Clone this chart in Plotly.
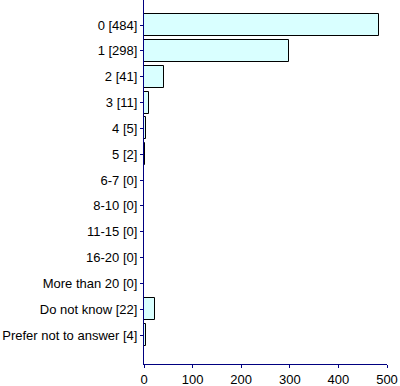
import plotly.graph_objects as go

categories = ["0", "1", "2", "3", "4", "5", "6-7", "8-10", "11-15", "16-20",
              "More than 20", "Do not know", "Prefer not to answer"]
counts = [484, 298, 41, 11, 5, 2, 0, 0, 0, 0, 0, 22, 4]
labels = [f"{c} [{v}]" for c, v in zip(categories, counts)]
x_ticks = [0, 100, 200, 300, 400, 500]

fig = go.Figure(go.Bar(
    x=counts, y=list(range(len(labels))), orientation="h",
    width=0.85,
    marker=dict(color="#D9FFFF", line=dict(color="black", width=1)),
    hoverinfo="skip",
))

fig.update_layout(
    width=400, height=386,
    margin=dict(l=144, r=13, t=0, b=22, autoexpand=False),
    paper_bgcolor="white", plot_bgcolor="white",
    font=dict(family="Liberation Sans, Arial", size=13, color="black"),
    showlegend=False,
    bargap=0,
)
fig.update_xaxes(
    range=[0, 500], tickvals=x_ticks, showgrid=False, zeroline=False,
    showline=True, linecolor="#000080", linewidth=1, automargin=False,
    ticks="outside", ticklen=3, tickcolor="#000080",
)
fig.update_yaxes(
    range=[13.12, -0.97], tickvals=list(range(len(labels))), ticktext=labels,
    showgrid=False, zeroline=False, automargin=False,
    showline=True, linecolor="#000080", linewidth=1,
    ticks="outside", ticklen=3, tickcolor="#000080",
)
fig.write_html("out.html", config={"displayModeBar": False},
               post_script="document.body.style.margin='0';document.body.style.overflow='hidden';")
